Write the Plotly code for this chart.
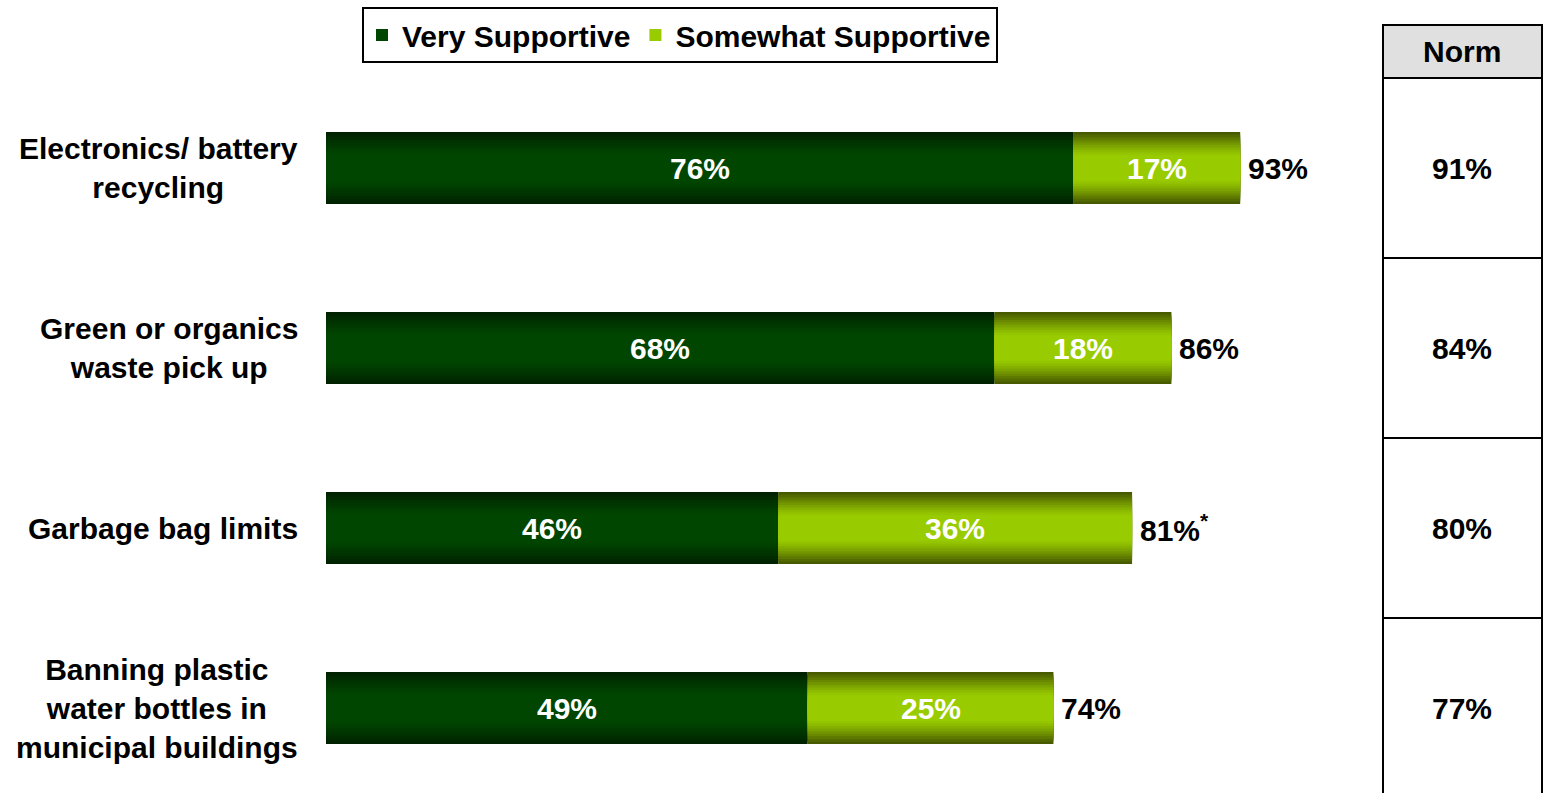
import plotly.graph_objects as go

categories = ["Electronics/ battery<br>recycling", "Green or organics<br>waste pick up",
              "Garbage bag limits", "Banning plastic<br>water bottles in<br>municipal buildings"]
very = [76, 68, 46, 49]
somewhat = [17, 18, 36, 25]
total_labels = ["93%", "86%", "81%<sup>*</sup>", "74%"]
norm = ["91%", "84%", "80%", "77%"]
series_names = ["Very Supportive", "Somewhat Supportive"]

W, H = 1544, 793
MT = 78
PH = H - MT
FONT = "Liberation Sans, Arial, sans-serif"
FS = 30

def px_x(px):
    return px / W

def px_y(py):
    return (H - py) / PH

ys = list(range(len(categories)))

def mix(c1, c2, t):
    return "rgb(%d,%d,%d)" % tuple(round(a + (b - a) * t) for a, b in zip(c1, c2))

palettes = [((0, 70, 0), (0, 34, 0)), ((153, 204, 0), (72, 90, 0))]
N = 14
BW = 0.4

fig = go.Figure()
bases = [[0] * len(very), very]
values = [very, somewhat]
for si in range(2):
    center, edge = palettes[si]
    for k in range(N):
        d = 1 - k / N
        t = max(0.0, (d - 0.35) / 0.65)
        t = t ** 1.3
        fig.add_trace(go.Bar(
            y=ys, x=values[si], base=bases[si], orientation="h",
            width=BW * d, marker=dict(color=mix(center, edge, t), line=dict(width=0)),
            name=series_names[si], showlegend=(k == N - 1),
            hoverinfo="skip", legendgroup=series_names[si],
        ))

annotations = []
# segment labels
for si in range(2):
    for i, (b, v) in enumerate(zip(bases[si], values[si])):
        annotations.append(dict(xref="x", yref="y", x=b + v / 2, y=i, xanchor="center",
                                yanchor="middle", text="<b>%d%%</b>" % v, showarrow=False,
                                font=dict(family=FONT, size=FS, color="white")))
# total labels
for i, (a, b, t) in enumerate(zip(very, somewhat, total_labels)):
    annotations.append(dict(xref="x", yref="y", x=a + b, y=i, xanchor="left", xshift=6,
                            yanchor="middle", text="<b>%s</b>" % t, showarrow=False,
                            font=dict(family=FONT, size=FS, color="black")))
for i, c in enumerate(categories):
    annotations.append(dict(xref="paper", yref="y", x=px_x(300), y=i, xanchor="right",
                            yanchor="middle", align="center", text="<b>%s</b>" % c,
                            showarrow=False, font=dict(family=FONT, size=FS, color="black")))
for i, n in enumerate(norm):
    annotations.append(dict(xref="paper", yref="y", x=px_x(1462), y=i, xanchor="center",
                            yanchor="middle", text="<b>%s</b>" % n, showarrow=False,
                            font=dict(family=FONT, size=FS, color="black")))
annotations.append(dict(xref="paper", yref="paper", x=px_x(1462), y=px_y(51), xanchor="center",
                        yanchor="middle", text="<b>Norm</b>", showarrow=False,
                        font=dict(family=FONT, size=FS, color="black")))

shapes = []
tx0, tx1 = px_x(1383), px_x(1542)
shapes.append(dict(type="rect", xref="paper", yref="paper", x0=tx0, x1=tx1,
                   y0=px_y(78), y1=px_y(25), fillcolor="#e0e0e0",
                   line=dict(color="black", width=2), layer="below"))
for py in [78, 258, 438, 618]:
    shapes.append(dict(type="line", xref="paper", yref="paper", x0=tx0, x1=tx1,
                       y0=px_y(py), y1=px_y(py), line=dict(color="black", width=2)))
for xx in [tx0, tx1]:
    shapes.append(dict(type="line", xref="paper", yref="paper", x0=xx, x1=xx,
                       y0=px_y(25), y1=px_y(800), line=dict(color="black", width=2)))

fig.update_layout(
    width=W, height=H,
    margin=dict(l=0, r=0, t=MT, b=0),
    barmode="overlay",
    plot_bgcolor="white", paper_bgcolor="white",
    font=dict(family=FONT, size=FS, color="black"),
    xaxis=dict(domain=[px_x(326), px_x(1309)], range=[0, 100], visible=False, fixedrange=True),
    yaxis=dict(range=[3.472, -0.5], visible=False, fixedrange=True),
    legend=dict(orientation="h", x=px_x(680), xanchor="center", y=px_y(7), yanchor="top",
                bordercolor="black", borderwidth=2, bgcolor="white",
                font=dict(family=FONT, size=FS, color="black", weight="bold"),
                itemwidth=30, tracegroupgap=0),
    annotations=annotations, shapes=shapes,
)

fig.write_html("out.html", config={"displayModeBar": False},
               post_script="document.body.style.margin='0';document.body.style.overflow='hidden';")
